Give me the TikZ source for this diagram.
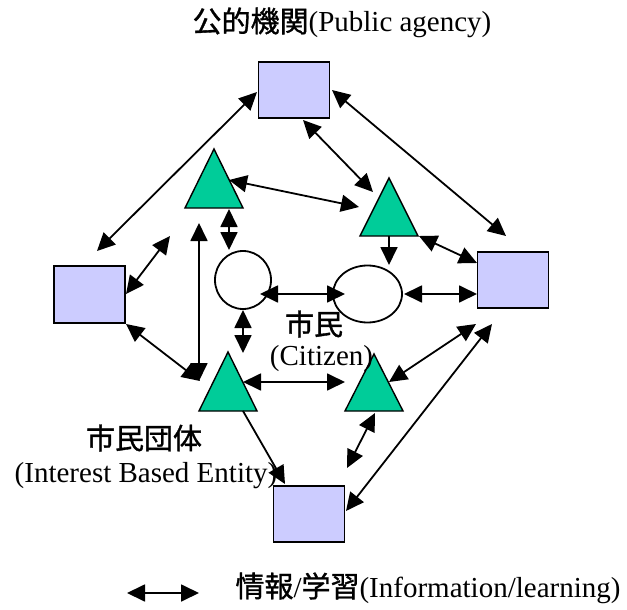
\documentclass[tikz,border=0pt]{standalone}
\usepackage{fontspec}
\setmainfont{Liberation Serif}
\newfontfamily\cjk{Noto Sans CJK JP}[FakeBold=1.2]
\usetikzlibrary{arrows.meta,shapes.geometric}
\definecolor{sqfill}{HTML}{CCCCFF}
\definecolor{trifill}{HTML}{00CC99}
\begin{document}
\begin{tikzpicture}[x=1pt,y=-1pt,
  sq/.style={draw, line width=1.8pt, fill=sqfill, minimum width=71pt, minimum height=56.5pt, inner sep=0pt},
  ell/.style={draw, ellipse, line width=1.8pt, inner sep=0pt},
  tri/.style={draw, line width=1.4pt, fill=trifill, line join=miter},
  link/.style={line width=1.8pt, {Triangle[length=18pt,width=17pt]}-{Triangle[length=18pt,width=17pt]}},
  oneway/.style={line width=1.8pt, -{Triangle[length=18pt,width=17pt]}},
  lbl/.style={font=\fontsize{29}{32}\selectfont, inner sep=0pt, anchor=base}
]
\useasboundingbox (0,0) rectangle (627,610);

% squares (organisations)
\node[sq] (sqT) at (294,90) {};
\node[sq] (sqL) at (89.5,294.5) {};
\node[sq] (sqR) at (513,280) {};
\node[sq] (sqB) at (309,514) {};

% triangles (interest based entities)
\draw[tri] (185,208) -- (214,149) -- (243,208) -- cycle;
\draw[tri] (360,236) -- (389,178) -- (418,236) -- cycle;
\draw[tri] (199,411) -- (228,352) -- (257,411) -- cycle;
\draw[tri] (345,411) -- (374,354) -- (403,411) -- cycle;

% ellipses (citizens)
\node[ell, minimum width=56pt, minimum height=58pt] (e1) at (243,280) {};
\node[ell, minimum width=69pt, minimum height=57pt] (e2) at (367.5,294) {};

% connector end points
\coordinate (a1s) at (97,251);   \coordinate (a1e) at (257,92);
\coordinate (a2s) at (332,90);   \coordinate (a2e) at (506,236);
\coordinate (a3s) at (303,120);  \coordinate (a3e) at (373,192);
\coordinate (a4s) at (229,180);  \coordinate (a4e) at (359,207);
\coordinate (a5s) at (229,209);  \coordinate (a5e) at (229,250);
\coordinate (a6s) at (126,294);  \coordinate (a6e) at (170,236);
\coordinate (a7s) at (199,223);  \coordinate (a7e) at (199,381);
\coordinate (a8s) at (126,324);  \coordinate (a8e) at (200,381);
\coordinate (a9s) at (243,310);  \coordinate (a9e) at (243,353);
\coordinate (a10s) at (260,294); \coordinate (a10e) at (345,294);
\coordinate (a11s) at (404,294); \coordinate (a11e) at (477,294);
\coordinate (a12s) at (389,236); \coordinate (a12e) at (389,265);
\coordinate (a13s) at (419,236); \coordinate (a13e) at (477,263);
\coordinate (a14s) at (243,382); \coordinate (a14e) at (345,382);
\coordinate (a15s) at (389,382); \coordinate (a15e) at (476,324);
\coordinate (a16s) at (346,511); \coordinate (a16e) at (492,324);
\coordinate (a17s) at (243,411); \coordinate (a17e) at (285,484);
\coordinate (a18s) at (375,413); \coordinate (a18e) at (347,468);
\coordinate (lgs) at (127,593);  \coordinate (lge) at (199,593);

% connectors
\draw[link] (a1s) -- (a1e);
\draw[link] (a2s) -- (a2e);
\draw[link] (a3s) -- (a3e);
\draw[link] (a4s) -- (a4e);
\draw[link] (a5s) -- (a5e);
\draw[link] (a6s) -- (a6e);
\draw[link] (a7s) -- (a7e);
\draw[link] (a8s) -- (a8e);
\draw[link] (a9s) -- (a9e);
\draw[link] (a10s) -- (a10e);
\draw[link] (a11s) -- (a11e);
\draw[oneway] (a12s) -- (a12e);
\draw[link] (a13s) -- (a13e);
\draw[link] (a14s) -- (a14e);
\draw[link] (a15s) -- (a15e);
\draw[link] (a16s) -- (a16e);
\draw[oneway] (a17s) -- (a17e);
\draw[link] (a18s) -- (a18e);
\draw[link] (lgs) -- (lge);

% labels
\node[lbl] (title) at (342,32) {{\cjk 公的機関}(Public agency)};
\node[lbl] (cit1) at (314,335) {\cjk 市民};
\node[lbl] (cit2) at (321.5,365) {(Citizen)};
\node[lbl] (ibe1) at (144,449) {\cjk 市民団体};
\node[lbl] (ibe2) at (146,482) {(Interest Based Entity)};
\node[lbl] (legend) at (428,597) {{\cjk 情報}/{\cjk 学習}(Information/learning)};
\end{tikzpicture}
\end{document}
